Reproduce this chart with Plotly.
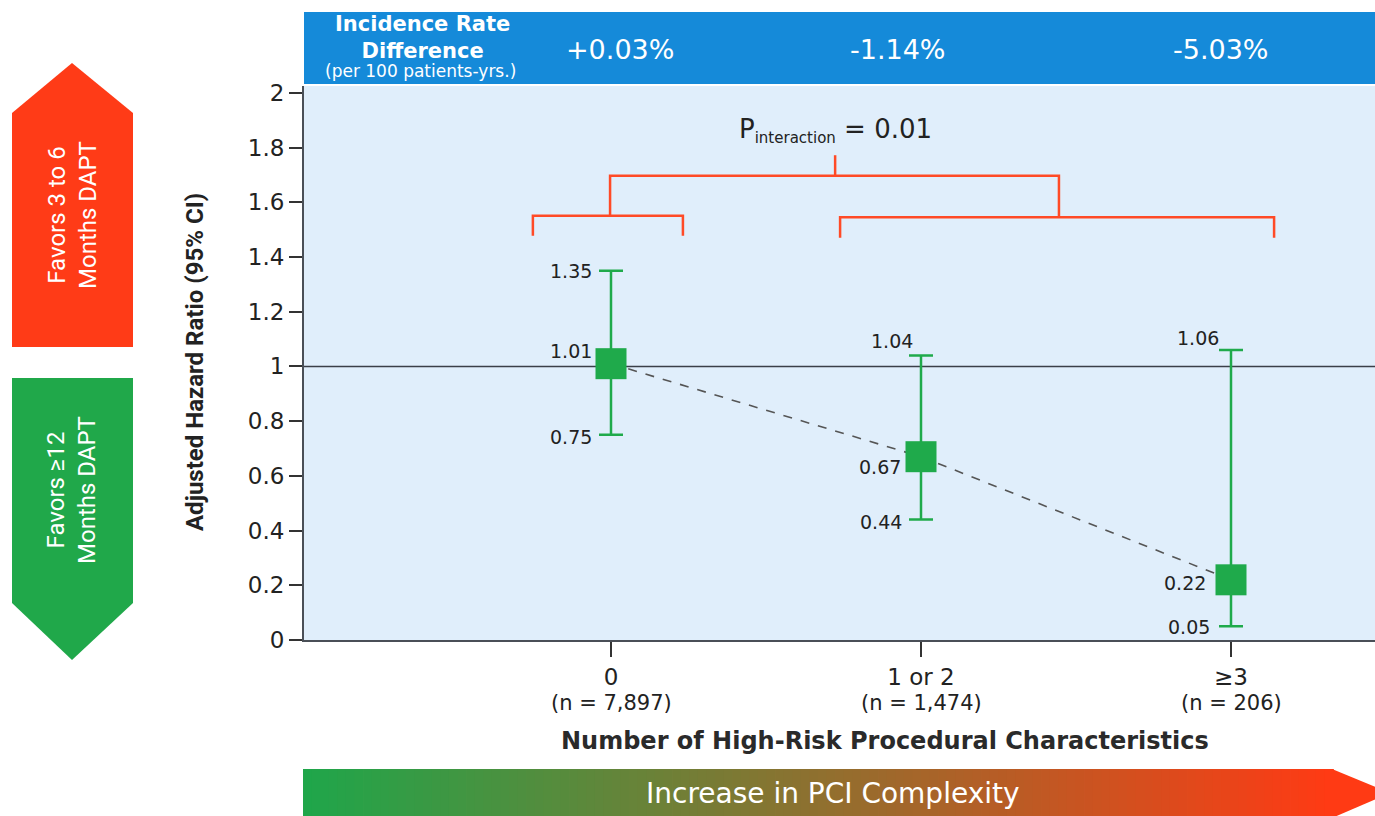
import plotly.graph_objects as go

# ---------------- data ----------------
categories = ["0", "1 or 2", "≥3"]
n_labels = ["(n = 7,897)", "(n = 1,474)", "(n = 206)"]
hr_est = [1.01, 0.67, 0.22]
hr_low = [0.75, 0.44, 0.05]
hr_high = [1.35, 1.04, 1.06]
ird_labels = ["+0.03%", "-1.14%", "-5.03%"]
p_interaction = "0.01"
y_ticks = [0, 0.2, 0.4, 0.6, 0.8, 1, 1.2, 1.4, 1.6, 1.8, 2]

# ---------------- geometry / style ----------------
W, H = 1375, 816
ML, MR, MT, MB = 304, 0, 86, 176
PW, PH = W - ML - MR, H - MT - MB


def px(x):  # pixel x -> paper
    return (x - ML) / PW


def py(y):  # pixel y -> paper
    return (H - MB - y) / PH


GREEN = "#1faa4b"
RED = "#ff3b17"
BANNER = "#158ad9"
PLOTBG = "#e0eefb"
BRACKET = "#ff4a26"
DARK = "#222222"
WIDE = "DejaVu Sans, Verdana, sans-serif"
COND = "Roboto, Liberation Sans, sans-serif"

xs = list(range(len(categories)))

fig = go.Figure()

# dashed trend line
fig.add_trace(go.Scatter(x=xs, y=hr_est, mode="lines",
                         line=dict(color="#555555", width=1.6, dash="dash"),
                         hoverinfo="skip", showlegend=False))
# estimates with CI
fig.add_trace(go.Scatter(
    x=xs, y=hr_est, mode="markers",
    marker=dict(symbol="square", size=31, color=GREEN),
    error_y=dict(type="data", symmetric=False,
                 array=[h - e for h, e in zip(hr_high, hr_est)],
                 arrayminus=[e - l for e, l in zip(hr_est, hr_low)],
                 color=GREEN, thickness=2.5, width=12),
    showlegend=False))

shapes = []
# reference line at HR = 1
shapes.append(dict(type="line", xref="paper", yref="y", x0=0, x1=1, y0=1, y1=1,
                   line=dict(color="#3a3f48", width=1.5), layer="below"))

# interaction brackets (data coords)
def bracket_path(pts):
    return "M " + " L ".join(f"{x} {y}" for x, y in pts)

bracket_style = dict(color=BRACKET, width=2.5)
shapes.append(dict(type="path", xref="x", yref="y", line=bracket_style,
                   path=bracket_path([(-0.252, 1.478), (-0.252, 1.551), (0.232, 1.551), (0.232, 1.478)])))
shapes.append(dict(type="path", xref="x", yref="y", line=bracket_style,
                   path=bracket_path([(0.739, 1.470), (0.739, 1.545), (2.139, 1.545), (2.139, 1.470)])))
shapes.append(dict(type="path", xref="x", yref="y", line=bracket_style,
                   path=bracket_path([(-0.003, 1.551), (-0.003, 1.697), (1.445, 1.697), (1.445, 1.545)])))
shapes.append(dict(type="line", xref="x", yref="y", x0=0.723, x1=0.723, y0=1.697, y1=1.772,
                   line=bracket_style))

# top banner
shapes.append(dict(type="rect", xref="paper", yref="paper",
                   x0=px(304), x1=px(1376), y0=py(84), y1=py(12),
                   fillcolor=BANNER, line=dict(width=0), layer="above"))

# left arrows
red_arrow = (f"M {px(12)} {py(347)} L {px(12)} {py(113)} L {px(72)} {py(63)} "
             f"L {px(133)} {py(113)} L {px(133)} {py(347)} Z")
green_arrow = (f"M {px(12)} {py(378)} L {px(133)} {py(378)} L {px(133)} {py(603)} "
               f"L {px(72)} {py(660)} L {px(12)} {py(603)} Z")
shapes.append(dict(type="path", xref="paper", yref="paper", path=red_arrow,
                   fillcolor=RED, line=dict(width=0)))
shapes.append(dict(type="path", xref="paper", yref="paper", path=green_arrow,
                   fillcolor="#20a84a", line=dict(width=0)))

# bottom gradient arrow
g0 = (31, 166, 74)
g1 = (255, 58, 20)
nstrip = 120
x_start, x_end = 303, 1333
for i in range(nstrip):
    t = i / (nstrip - 1)
    c = tuple(int(round(a + (b - a) * t)) for a, b in zip(g0, g1))
    xa = x_start + (x_end - x_start) * i / nstrip
    xb = x_start + (x_end - x_start) * (i + 1) / nstrip + 0.8
    shapes.append(dict(type="rect", xref="paper", yref="paper",
                       x0=px(xa), x1=px(xb), y0=py(818), y1=py(769),
                       fillcolor=f"rgb{c}", line=dict(width=0)))
shapes.append(dict(type="path", xref="paper", yref="paper",
                   path=f"M {px(1332)} {py(769)} L {px(1390)} {py(793)} L {px(1332)} {py(818)} Z",
                   fillcolor=f"rgb{g1}", line=dict(width=0)))

annotations = []


def ann(x, y, text, size, color=DARK, family=WIDE, xref="paper", yref="paper", **kw):
    d = dict(x=x, y=y, xref=xref, yref=yref, text=text, showarrow=False,
             xanchor=kw.pop("xanchor", "center"), yanchor=kw.pop("yanchor", "middle"),
             font=dict(family=family, size=size, color=color))
    d.update(kw)
    annotations.append(d)


# value labels next to CI ends / estimates
label_vals = [
    (0, hr_high[0], -17, 0), (0, hr_est[0], -17, 13), (0, hr_low[0], -17, -2),
    (1, hr_high[1], -6, 14), (1, hr_est[1], -18, -10), (1, hr_low[1], -17, -2),
    (2, hr_high[2], -10, 12), (2, hr_est[2], -23, -3), (2, hr_low[2], -19, -1),
]
for xi, v, dx, dy in label_vals:
    ann(xi, v, f"{v:.2f}", 19, xref="x", yref="y", xanchor="right", xshift=dx, yshift=dy)

ann(0.723, 1.862, f"P<sub><span style='font-size:15px'>interaction</span></sub> = {p_interaction}",
    26, xref="x", yref="y")

# n labels below categories
for xi, t in zip(xs, n_labels):
    ann(xi, py(703), t, 21, xref="x")

# x title
ann(px(885), py(741), "<b>Number of High-Risk Procedural Characteristics</b>", 24, color="#2a2a2a")
# y title
ann(px(195), py(362), "<b>Adjusted Hazard Ratio (95% CI)</b>", 24, family=COND, textangle=-90)

# banner text
ann(px(422), py(37), "<b>Incidence Rate<br>Difference</b>", 21, color="white")
ann(px(420), py(71), "(per 100 patients-yrs.)", 17, color="white")
for cx, t in zip([620, 898, 1221], ird_labels):
    ann(px(cx), py(50), t, 27, color="white")

# arrow texts
ann(px(72), py(215), "Favors 3 to 6<br>Months DAPT", 24, color="white", family=COND, textangle=-90)
ann(px(72), py(490), "Favors ≥12<br>Months DAPT", 24, color="white", family=COND, textangle=-90)
ann(px(833), py(793), "Increase in PCI Complexity", 28, color="white")

fig.update_layout(
    width=W, height=H,
    margin=dict(l=ML, r=MR, t=MT, b=MB),
    paper_bgcolor="white", plot_bgcolor=PLOTBG,
    shapes=shapes, annotations=annotations,
    showlegend=False,
    xaxis=dict(range=[(ML - 611) / 310, (W - 611) / 310], tickmode="array",
               tickvals=xs, ticktext=categories, showgrid=False, zeroline=False,
               showline=True, linecolor="#4a4f57", linewidth=2,
               ticks="outside", ticklen=15, tickwidth=1.5, tickcolor="#333",
               tickfont=dict(family=WIDE, size=23, color=DARK)),
    yaxis=dict(range=[0, 2.025], tickmode="array", tickvals=y_ticks,
               showgrid=False, zeroline=False,
               showline=True, linecolor="#4a4f57", linewidth=2,
               ticks="outside", ticklen=13, tickwidth=1.5, tickcolor="#333",
               tickfont=dict(family=WIDE, size=23, color=DARK)),
)

fig.write_html("out.html", config={"displayModeBar": False},
               post_script="document.body.style.margin='0';document.body.style.overflow='hidden';")
